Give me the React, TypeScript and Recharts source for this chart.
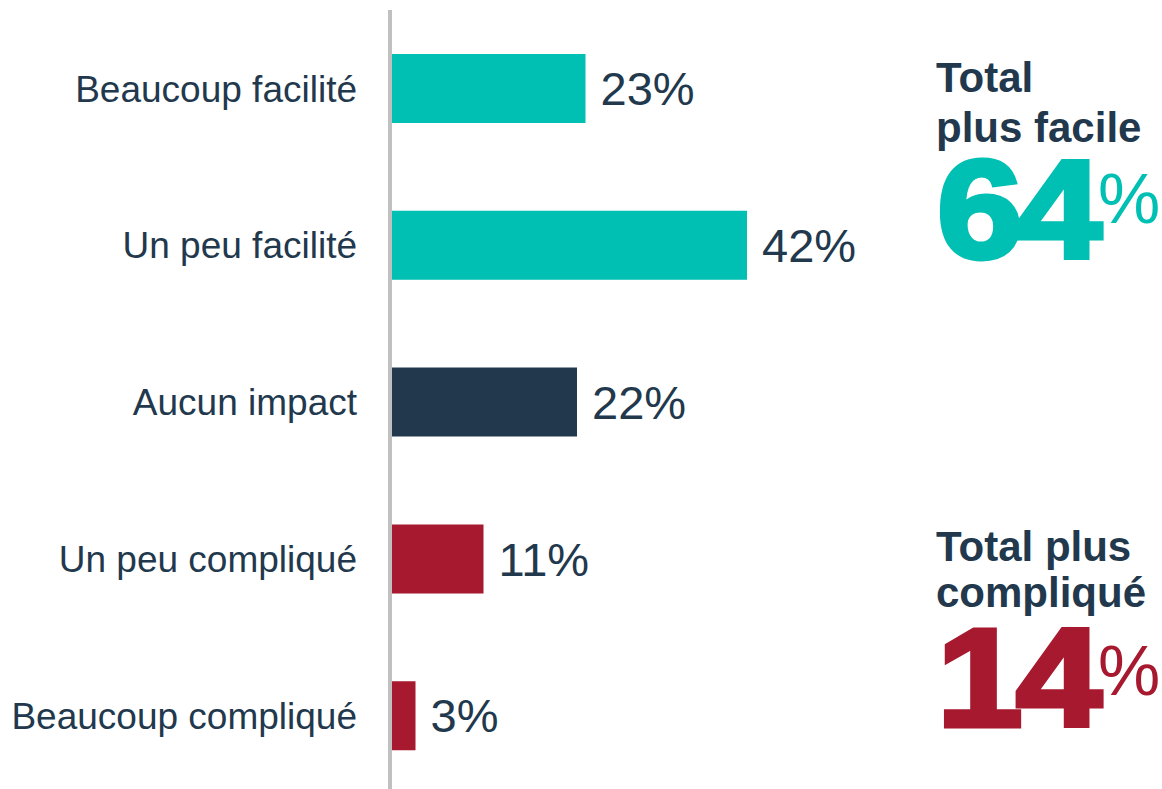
import { BarChart, Bar, XAxis, YAxis, LabelList, Cell } from 'recharts';

const categories = ['Beaucoup facilité', 'Un peu facilité', 'Aucun impact', 'Un peu compliqué', 'Beaucoup compliqué'];
const shares = [23, 42, 22, 11, 3];
const groups = ['easy', 'easy', 'neutral', 'hard', 'hard'];

const easyTitle = ['Total', 'plus facile'];
const easyTotal = 64;
const hardTitle = ['Total plus', 'compliqué'];
const hardTotal = 14;

const NAVY = '#22384d';
const groupColors: Record<string, string> = {
  easy: '#00bfb3',
  neutral: NAVY,
  hard: '#a6192e',
};

const data = categories.map((name, i) => ({ name, value: shares[i], group: groups[i] }));

const FONT = '"Liberation Sans", Arial, sans-serif';

// big heavy number, widened a little to look like a black weight
function BigTotal({ x, y, value, color }: { x: number; y: number; value: number; color: string }) {
  return (
    <g transform={`translate(${x},${y}) scale(1.1,1)`}>
      <text
        x={0}
        y={0}
        fontSize={140}
        fontWeight="bold"
        fill={color}
        stroke={color}
        strokeWidth={5}
        letterSpacing={-6}
      >
        {value}
      </text>
    </g>
  );
}

export default function App() {
  return (
    <div
      style={{
        position: 'absolute',
        left: 0,
        top: 0,
        width: 1162,
        height: 789,
        overflow: 'hidden',
        background: '#fff',
        fontFamily: FONT,
      }}
    >
      <BarChart
        width={1162}
        height={794}
        data={data}
        layout="vertical"
        margin={{ top: 10, right: 262, left: 0, bottom: 0 }}
      >
        <XAxis type="number" domain={[0, 60]} hide />
        <YAxis
          type="category"
          dataKey="name"
          width={390}
          axisLine={{ stroke: '#c0c0c0', strokeWidth: 4 }}
          tickLine={false}
          tickSize={0}
          tickMargin={33}
          tick={{ fill: NAVY, fontSize: 37, fontFamily: FONT }}
          interval={0}
        />
        <Bar dataKey="value" barSize={69} isAnimationActive={false}>
          {data.map((d) => (
            <Cell key={d.name} fill={groupColors[d.group]} />
          ))}
          <LabelList
            dataKey="value"
            position="right"
            offset={15}
            formatter={(v: number) => `${v}%`}
            fill={NAVY}
            fontSize={47}
            fontFamily={FONT}
          />
        </Bar>
      </BarChart>

      {/* totals on the right */}
      <svg width={1162} height={789} style={{ position: 'absolute', left: 0, top: 0, pointerEvents: 'none' }}>
        <g fontFamily={FONT}>
          <text x={936} y={92} fontSize={42} fontWeight="bold" fill={NAVY}>{easyTitle[0]}</text>
          <text x={936} y={142} fontSize={42} fontWeight="bold" fill={NAVY}>{easyTitle[1]}</text>
          <BigTotal x={937} y={258} value={easyTotal} color={groupColors.easy} />
          <text x={1098} y={223} fontSize={70} fill={groupColors.easy}>%</text>

          <text x={936} y={561} fontSize={42} fontWeight="bold" fill={NAVY}>{hardTitle[0]}</text>
          <text x={936} y={607} fontSize={42} fontWeight="bold" fill={NAVY}>{hardTitle[1]}</text>
          <BigTotal x={937} y={726} value={hardTotal} color={groupColors.hard} />
          <text x={1098} y={695} fontSize={70} fill={groupColors.hard}>%</text>
        </g>
      </svg>
    </div>
  );
}
